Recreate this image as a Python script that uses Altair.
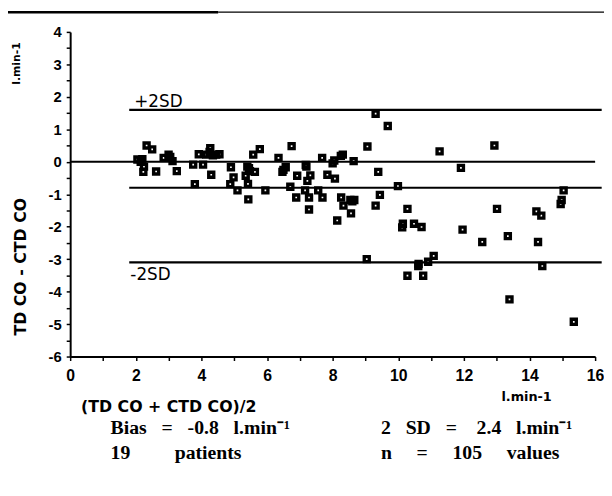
import altair as alt
import pandas as pd

# Mean of the two methods (x, l/min) and difference (y, l/min)
mean_x = [2.05, 2.15, 2.33, 2.50, 2.25, 2.23, 2.62, 2.85, 3.00, 3.12, 3.25,
          3.75, 3.92, 4.05, 3.80, 4.27, 4.15, 4.35, 4.55, 4.30, 4.90, 4.98, 4.88, 5.10,
          5.40, 5.48, 5.63, 5.35, 5.42, 5.43, 5.58, 5.78, 5.95,
          6.35, 6.75, 6.57, 6.47, 6.71, 6.92, 6.89,
          7.18, 7.32, 7.23, 7.16, 7.28, 7.28, 7.56, 7.68, 7.84, 7.69,
          8.05, 8.00, 8.31, 8.64, 8.07, 8.26, 8.33, 8.54, 8.66, 8.56, 8.14,
          9.31, 9.68, 9.06, 9.39, 9.44, 9.31, 9.04, 9.99,
          10.28, 10.14, 10.12, 10.48, 10.71, 10.61, 10.91, 11.08, 10.28, 10.76, 11.26,
          11.91, 11.96, 12.56, 12.93, 13.01, 13.34, 13.39, 14.21, 14.36, 14.26, 14.39,
          15.04, 14.98, 14.95, 15.35,
          2.20, 3.05, 4.45, 4.25, 5.45, 6.50, 7.20, 8.25, 8.60, 10.62]
diff_y = [0.07, 0.00, 0.50, 0.38, -0.15, -0.31, -0.30, 0.12, 0.22, 0.02, -0.29,
          -0.09, 0.23, -0.09, -0.69, 0.42, 0.22, 0.20, 0.23, -0.40, -0.17, -0.48, -0.69, -0.88,
          -0.15, -0.29, -0.31, -0.43, -0.68, -1.16, 0.22, 0.39, -0.88,
          0.12, 0.48, -0.17, -0.31, -0.77, -0.43, -1.10,
          -0.10, -0.42, -0.59, -0.88, -1.10, -1.47, -0.88, 0.12, -0.40, -1.10,
          0.04, -0.05, 0.22, 0.02, -0.52, -1.10, -1.35, -1.18, -1.18, -1.59, -1.81,
          1.48, 1.10, 0.47, -0.31, -1.02, -1.35, -3.00, -0.75,
          -1.45, -1.91, -2.02, -1.91, -2.01, -3.21, -3.08, -2.90, -3.51, -3.51, 0.32,
          -0.19, -2.09, -2.47, 0.50, -1.45, -2.29, -4.24, -1.53, -1.66, -2.47, -3.21,
          -0.88, -1.18, -1.30, -4.93,
          0.08, 0.15, 0.22, 0.30, -0.20, -0.25, -0.15, 0.18, -1.22, -3.15]

limit_values = [1.6, -0.8, -3.1]
zero_value = [0]

x_tick_values = list(range(0, 17))
y_tick_values = [v / 2 for v in range(-12, 9)]

W, H = 532, 329
PX = W / 16.0  # pixels per unit on x
NB = "\u00a0"

pts = pd.DataFrame({"mean": mean_x, "diff": diff_y})

x_scale = alt.Scale(domain=[0, 16], nice=False, zero=False)
y_scale = alt.Scale(domain=[-6, 4], nice=False, zero=False)

axis_common = dict(
    title=None, grid=False, domainColor="black", domainWidth=2,
    tickColor="black", tickWidth=1.5, tickSize=4,
    labelFont="Liberation Sans", labelFontWeight="bold", labelColor="black",
    labelOverlap=False, labelFlush=False,
)
x_axis = alt.Axis(values=x_tick_values, labelFontSize=16, labelPadding=7,
                  labelExpr="datum.value % 2 === 0 ? '' + datum.value : ''", **axis_common)
y_axis = alt.Axis(values=y_tick_values, labelFontSize=15, labelPadding=5,
                  labelExpr="datum.value % 1 === 0 ? '' + datum.value : ''", **axis_common)

points = alt.Chart(pts).mark_square(
    filled=False, color="black", strokeWidth=3.4, size=26, opacity=1
).encode(
    x=alt.X("mean:Q", scale=x_scale, axis=x_axis),
    y=alt.Y("diff:Q", scale=y_scale, axis=y_axis),
)

zero_rule = alt.Chart(pd.DataFrame({"v": zero_value})).mark_rule(
    color="black", strokeWidth=2
).encode(y=alt.Y("v:Q", scale=y_scale, axis=y_axis), x=alt.value(0), x2=alt.value(W))

limit_rules = alt.Chart(pd.DataFrame({"v": limit_values})).mark_rule(
    color="black", strokeWidth=2.2
).encode(y=alt.Y("v:Q", scale=y_scale, axis=y_axis),
         x=alt.value(1.8 * PX), x2=alt.value(16.2 * PX))

scan_line1 = alt.Chart(pd.DataFrame({"v": [0]})).mark_rule(color="black", strokeWidth=2.5).encode(
    x=alt.value(-66), x2=alt.value(150), y=alt.value(-20))
scan_line2 = alt.Chart(pd.DataFrame({"v": [0]})).mark_rule(color="black", strokeWidth=1.3).encode(
    x=alt.value(150), x2=alt.value(541), y=alt.value(-20))


def label(text, x, y, size, font="DejaVu Sans", weight="bold", angle=0, align="left",
          baseline="middle"):
    return alt.Chart(pd.DataFrame({"t": [text]})).mark_text(
        font=font, fontSize=size, fontWeight=weight, angle=angle, align=align,
        baseline=baseline, color="black"
    ).encode(text="t:N", x=alt.value(x), y=alt.value(y))


def sp(n):
    return NB * n


texts = [
    label("+2SD", 65, 76, 17, weight="normal", baseline="alphabetic"),
    label("-2SD", 61, 246, 17, weight="normal"),
    label("TD CO - CTD CO", -50, 238, 16, angle=270, align="center"),
    label("l.min-1", -54, 32, 11, angle=270, align="center"),
    label("(TD CO + CTD CO)/2", 11, 380, 16),
    label("l.min-1", 437, 370, 13),
    label("Bias" + sp(3) + "=" + sp(3) + "-0.8" + sp(3) + "l.min\u207b\u00b9",
          41, 401, 20, font="Liberation Serif"),
    label("2" + sp(3) + "SD" + sp(3) + "=" + sp(4) + "2.4" + sp(3) + "l.min\u207b\u00b9",
          315, 401, 20, font="Liberation Serif"),
    label("19" + sp(9) + "patients", 41, 427, 20, font="Liberation Serif"),
    label("n" + sp(5) + "=" + sp(5) + "105" + sp(5) + "values", 315, 427, 20,
          font="Liberation Serif"),
]

chart = alt.layer(points, zero_rule, limit_rules, scan_line1, scan_line2, *texts).properties(
    width=W, height=H,
    autosize=alt.AutoSizeParams(type="none"),
    padding={"left": 63, "top": 21, "right": 9, "bottom": 130},
    background="white",
).configure_view(stroke=None)

chart.save("out.html", embed_options={"renderer": "svg", "actions": False})
